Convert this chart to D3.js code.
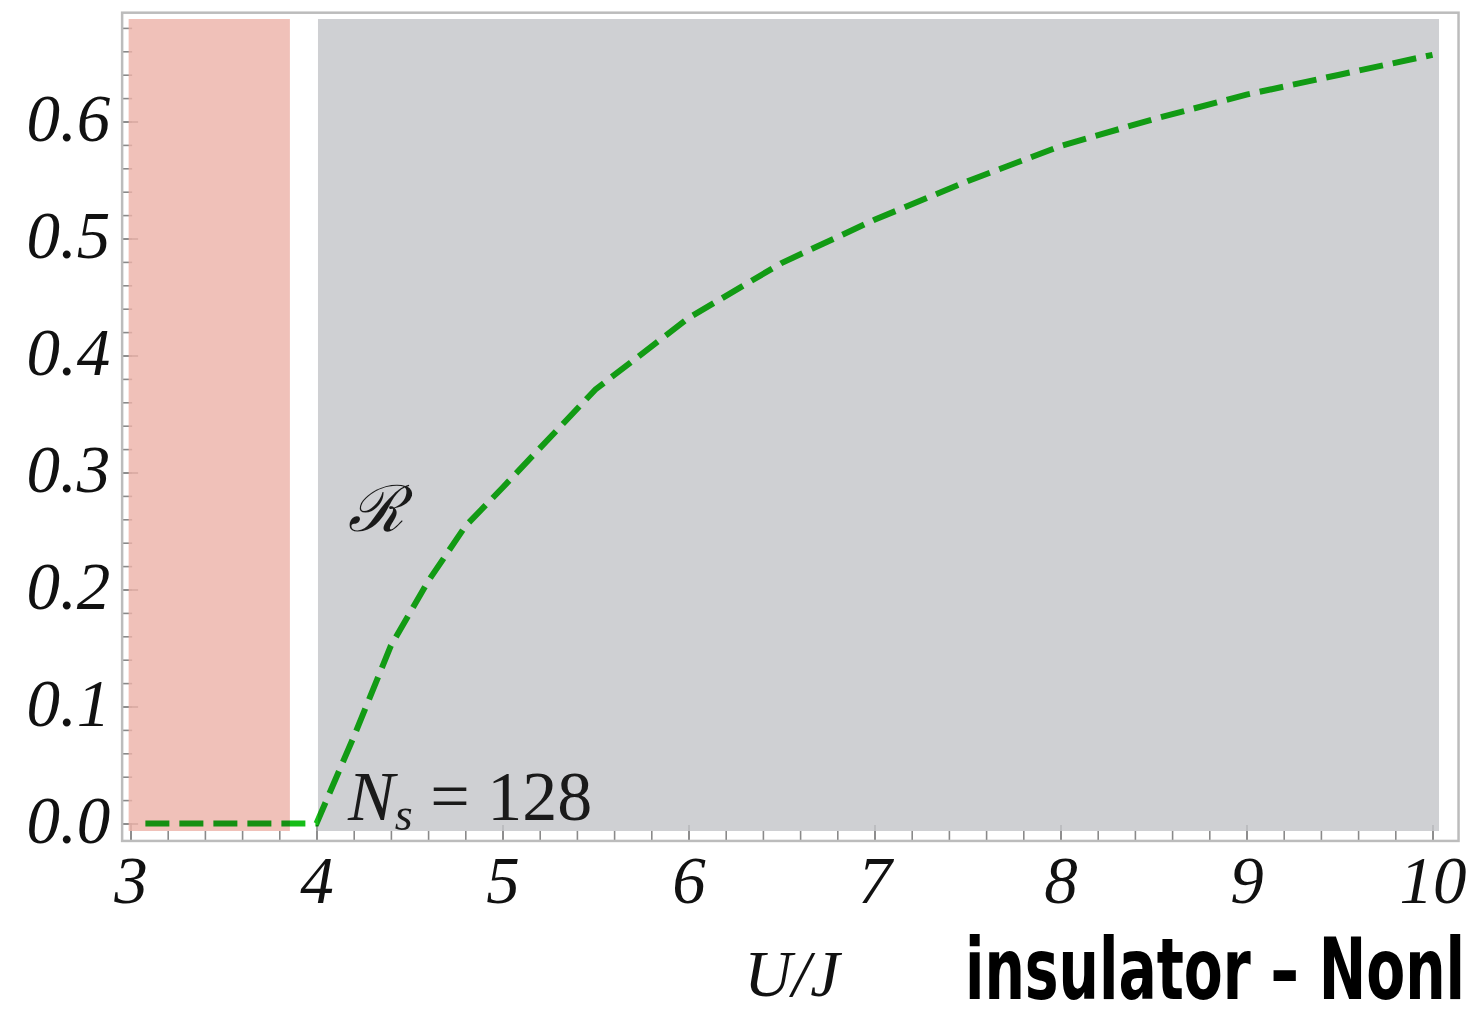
<!DOCTYPE html>
<html>
<head>
<meta charset="utf-8">
<script src="https://cdn.jsdelivr.net/npm/d3@7"></script>
<style>
  html, body { margin: 0; padding: 0; background: #fff; overflow: hidden; }
  svg { display: block; }
  .tick text { font-family: "Liberation Serif", "Times New Roman", serif; font-style: italic; font-size: 67px; fill: #111; }
</style>
</head>
<body>
<div id="chart"></div>
<script>
// values: R against U/J, Ns = 128
const uValues = [3.08, 4.0, 4.2, 4.4, 4.6, 4.8, 5.0, 5.5, 6.0, 6.5, 7.0, 7.5, 8.0, 8.5, 9.0, 9.5, 10.0];
const rValues = [0, 0, 0.074, 0.152, 0.207, 0.254, 0.287, 0.371, 0.432, 0.479, 0.516, 0.549, 0.579, 0.602, 0.623, 0.640, 0.657];

const xTicks = [3, 4, 5, 6, 7, 8, 9, 10];
const yTicks = [0, 0.1, 0.2, 0.3, 0.4, 0.5, 0.6];
const yTickLabels = ["0.0", "0.1", "0.2", "0.3", "0.4", "0.5", "0.6"];

// shaded phase regions (U/J from, to)
const regionFrom = [2.99, 4.008];
const regionTo = [3.857, 10.035];
const regionR = [-0.0064, 0.6876];
const regionColors = ["#ecb1a8", "#c3c4c8"];

const width = 1473, height = 1010;

const x = d3.scaleLinear().domain([3, 10]).range([130.5, 1432.5]);
const y = d3.scaleLinear().domain([0, 0.6]).range([823.5, 121.5]);

const svg = d3.select("#chart")
  .append("svg")
  .attr("width", width)
  .attr("height", height);

const frameLeft = x(2.955), frameRight = x(10.14),
  frameTop = y(0.693), frameBottom = y(-0.0149);

// minor ticks
svg.append("g")
  .attr("transform", "translate(" + frameLeft + ",0)")
  .call(d3.axisLeft(y).tickValues(d3.range(0, 0.681, 0.02)).tickSize(-10).tickFormat(""))
  .call(g => g.select(".domain").remove());

svg.append("g")
  .attr("transform", "translate(0," + frameBottom + ")")
  .call(d3.axisBottom(x).tickValues(d3.range(3, 10.01, 0.2)).tickSize(-10).tickFormat(""))
  .call(g => g.select(".domain").remove());

// major ticks with labels
svg.append("g")
  .attr("transform", "translate(" + frameLeft + ",0)")
  .call(d3.axisLeft(y).tickValues(yTicks).tickSizeInner(-16).tickSizeOuter(0)
    .tickPadding(12).tickFormat((d, i) => yTickLabels[i]))
  .call(g => g.select(".domain").remove())
  .call(g => g.selectAll("text").attr("dy", "0.28em"));

svg.append("g")
  .attr("transform", "translate(0," + frameBottom + ")")
  .call(d3.axisBottom(x).tickValues(xTicks).tickSizeInner(-16).tickSizeOuter(0)
    .tickPadding(15).tickFormat(d3.format("d")))
  .call(g => g.select(".domain").remove());

svg.selectAll(".tick line")
  .attr("stroke", "#8a8a8a")
  .attr("stroke-width", 1.6);

// regions drawn over the ticks, slightly see-through
svg.selectAll(".region")
  .data(regionFrom)
  .enter().append("rect")
  .attr("class", "region")
  .attr("x", (d, i) => x(d))
  .attr("width", (d, i) => x(regionTo[i]) - x(d))
  .attr("y", y(regionR[1]))
  .attr("height", y(regionR[0]) - y(regionR[1]))
  .attr("fill", (d, i) => regionColors[i])
  .attr("fill-opacity", 0.8);

// frame
svg.append("rect")
  .attr("x", frameLeft)
  .attr("y", frameTop)
  .attr("width", frameRight - frameLeft)
  .attr("height", frameBottom - frameTop)
  .attr("fill", "none")
  .attr("stroke", "#bcbcbc")
  .attr("stroke-width", 2.5);

// dashed curve
const line = d3.line()
  .x((d, i) => x(uValues[i]))
  .y((d, i) => y(rValues[i]));

svg.append("path")
  .datum(uValues)
  .attr("d", line)
  .attr("fill", "none")
  .attr("stroke", "#16be18")
  .attr("stroke-width", 6)
  .attr("stroke-dasharray", "24,10")
  .style("mix-blend-mode", "multiply");

// annotations
svg.append("text")
  .attr("x", x(4.17))
  .attr("y", y(0.25))
  .attr("font-family", "'DejaVu Serif', serif")
  .attr("font-style", "italic")
  .attr("font-size", 64)
  .attr("fill", "#1a1a1a")
  .text("\u211B");

const ns = svg.append("text")
  .attr("x", x(4.17))
  .attr("y", y(0.003))
  .attr("font-family", "'Liberation Serif', 'Times New Roman', serif")
  .attr("font-size", 70)
  .attr("fill", "#1a1a1a");
ns.append("tspan").attr("font-style", "italic").text("N");
ns.append("tspan").attr("font-style", "italic").attr("font-size", 46).attr("dy", 10).text("s");
ns.append("tspan").attr("dy", -10).text(" = 128");

// axis label
svg.append("text")
  .attr("x", 792)
  .attr("y", 996)
  .attr("text-anchor", "middle")
  .attr("font-family", "'Liberation Serif', 'Times New Roman', serif")
  .attr("font-style", "italic")
  .attr("font-size", 66)
  .attr("fill", "#111")
  .text("U/J");

// caption text running up to the right edge as in the original
svg.append("text")
  .attr("x", 965)
  .attr("y", 999)
  .attr("font-family", "'DejaVu Sans', sans-serif")
  .attr("font-weight", "bold")
  .attr("font-size", 86)
  .attr("textLength", 500)
  .attr("lengthAdjust", "spacingAndGlyphs")
  .attr("fill", "#000")
  .text("insulator \u2013 Nonl");
</script>
</body>
</html>
